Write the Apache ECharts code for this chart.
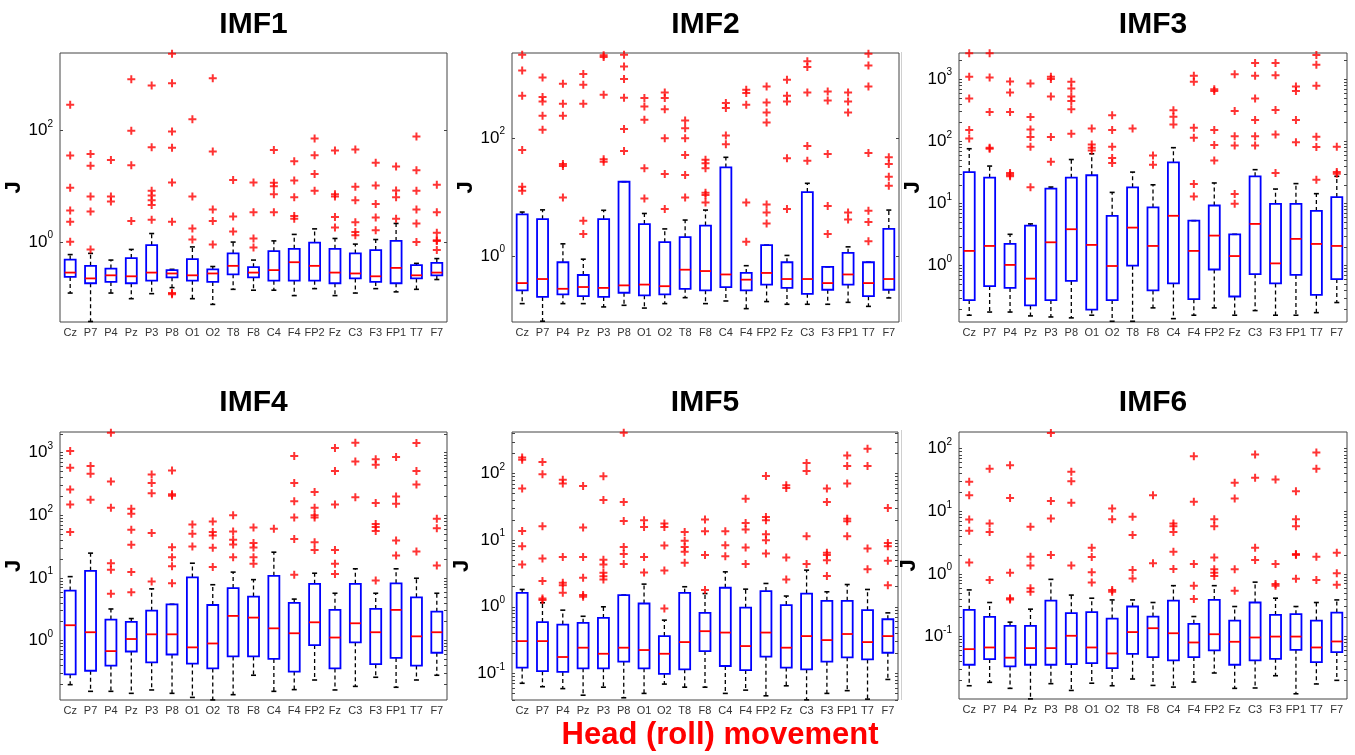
<!DOCTYPE html>
<html><head><meta charset="utf-8">
<script src="https://cdn.jsdelivr.net/npm/echarts@6/dist/echarts.min.js"></script>
<style>html,body{margin:0;padding:0;background:#fff}#c{width:1355px;height:755px}</style>
</head><body><div id="c"></div>
<script>
const channels = ['Cz','P7','P4','Pz','P3','P8','O1','O2','T8','F8','C4','F4','FP2','Fz','C3','F3','FP1','T7','F7'];
const panelTitles = ['IMF1','IMF2','IMF3','IMF4','IMF5','IMF6'];
const yAxisTitle = 'J';
const xAxisTitle = 'Head (roll) movement';
const yTickValues = [[1,100],[1,100],[1,10,100,1000],[1,10,100,1000],[0.1,1,10,100],[0.1,1,10,100]];
const yRangeMin = [0.0362, 0.0766, 0.1245, 0.1127, 0.0398, 0.01007];
const yRangeMax = [2483, 2786, 2630, 2138, 422, 185];

// IMF1
const imf1Lo  = [0.12,0.037,0.12,0.095,0.117,0.15,0.095,0.075,0.14,0.135,0.135,0.108,0.144,0.108,0.12,0.144,0.126,0.14,0.21];
const imf1Q1  = [0.234,0.18,0.19,0.18,0.20,0.23,0.20,0.19,0.26,0.23,0.20,0.20,0.20,0.18,0.22,0.19,0.18,0.22,0.25];
const imf1Med = [0.28,0.22,0.25,0.24,0.28,0.27,0.25,0.27,0.37,0.28,0.31,0.43,0.37,0.28,0.27,0.24,0.34,0.25,0.28];
const imf1Q3  = [0.48,0.37,0.33,0.51,0.87,0.31,0.49,0.32,0.62,0.35,0.68,0.75,0.97,0.75,0.62,0.71,1.04,0.38,0.42];
const imf1Hi  = [0.59,0.62,0.47,0.73,1.41,0.32,0.81,0.36,0.99,0.47,1.04,1.36,1.71,1.15,0.91,1.1,2.14,0.41,0.50];
const imf1Out = [[290,35.5,9.4,3.67,2.29,1.0],[38,23.4,6.5,3.5,0.73],[29.7,6.5,5.3],[841,99,23.7,2.36],[646,50,8.3,6.8,5.6,4.6,2.5],[2400,713,96,49,11.7,2.3,0.12,0.114],[160,6.5,1.74,1.1],[877,42,3.8,2.36,0.9],[12.9,2.86,1.54],[11.7,3.4,1.15,0.79],[45,11.6,10,7.2,3.4],[28,12.7,6.3,2.9,2.6],[72,36,16.6,8.3],[44,7.2,6.5,2.8,1.81],[45.5,9.8,5.6,2.26,1.51,1.32],[26.5,10.3,4.8,2.74,1.62],[22.5,8.4,6.3,2.6],[78,19.3,8.3,3.8,2.14,0.99],[10.6,3.4,1.45,1.07,1.03,0.71]];

// IMF2
const imf2Lo  = [0.157,0.079,0.157,0.157,0.138,0.147,0.132,0.157,0.198,0.157,0.174,0.129,0.17,0.153,0.153,0.153,0.165,0.141,0.196];
const imf2Q1  = [0.264,0.204,0.226,0.21,0.204,0.24,0.217,0.226,0.28,0.264,0.30,0.264,0.33,0.29,0.23,0.27,0.33,0.21,0.27];
const imf2Med = [0.35,0.41,0.28,0.30,0.29,0.32,0.33,0.31,0.59,0.56,0.49,0.40,0.52,0.41,0.41,0.35,0.49,0.35,0.41];
const imf2Q3  = [5.1,4.25,0.79,0.48,4.25,18.3,3.5,1.73,2.1,3.3,32,0.52,1.54,0.79,12.2,0.66,1.14,0.79,2.9];
const imf2Hi  = [5.6,6.1,1.62,0.89,6.0,18.3,5.3,2.9,4.1,6.05,47.5,0.69,1.54,1.03,17.2,0.66,1.44,0.79,6.05];
const imf2Out = [[2600,1413,524,63,15,12.9],[1074,498,420,240,139],[839,384,240,36.6,33.9,9.9],[1224,807,384,4.0,2.37],[2540,2380,545,44,40],[2600,1652,1007,485,144,61],[479,345,205,31,9.5],[597,479,311,100,24.8,6.3],[200,148,100,52,23.8,9.9],[43,37.6,31,11.9,10.9,8.1],[394,324,111,79],[663,582,369,8.1,1.75],[755,404,273,185,7.5,5.5,3.6],[980,524,420,45.7,6.3],[2010,1610,597,74,41.7],[621,437,54,7.1,2.37],[597,420,273,5.5,4.2],[2700,1718,755,56,5.9,3.8,1.8],[47.5,36.6,22.3,15.7]];

// IMF3
const imf3Lo  = [0.16,0.18,0.18,0.156,0.15,0.145,0.16,0.128,0.128,0.21,0.141,0.16,0.21,0.16,0.19,0.16,0.16,0.176,0.256];
const imf3Q1  = [0.28,0.47,0.44,0.23,0.28,0.57,0.197,0.28,1.0,0.40,0.52,0.29,0.87,0.32,0.73,0.52,0.71,0.34,0.61];
const imf3Med = [1.73,2.08,1.03,0.62,2.38,3.86,2.16,0.99,4.1,2.08,6.35,1.73,3.05,1.43,4.7,1.09,2.7,2.24,2.08];
const imf3Q3  = [32,26,2.24,4.4,17.3,26,28.5,6.35,18.2,8.65,46,5.3,9.3,3.2,27.4,9.9,9.9,7.6,12.7];
const imf3Hi  = [76,40,3.2,4.7,18.4,51,63,15.1,32,20,79,5.3,21.4,3.2,35,17.1,20.9,14.4,27.4];
const imf3Out = [[2600,1090,486,152,111],[2600,1063,296,79,76],[916,608,296,31,29,27.4],[850,246,155,117,82,18.2],[1090,1000,524,117,47],[904,706,524,446,327,132],[161,89,79,71],[262,152,82,54,45],[161],[59,42],[315,249,187],[1130,904,165,114,20.6,13],[689,647,152,87,49],[1203,307,121,86,14.2,9.9],[1811,1130,486,220,121,86],[1811,1159,319,129,31],[760,647,220,97],[2440,1702,780,118,81,24.2],[82,32,30]];

// IMF4
const imf4Lo  = [0.198,0.155,0.155,0.144,0.163,0.144,0.124,0.113,0.137,0.28,0.155,0.165,0.235,0.163,0.186,0.26,0.18,0.235,0.28];
const imf4Q1  = [0.29,0.33,0.40,0.67,0.45,0.60,0.43,0.36,0.56,0.56,0.51,0.32,0.85,0.36,0.94,0.42,0.53,0.40,0.64];
const imf4Med = [1.76,1.36,0.68,1.06,1.26,1.26,0.78,0.90,2.48,2.33,1.57,1.31,1.96,1.12,1.89,1.36,3.09,1.17,1.36];
const imf4Q3  = [6.3,13,2.17,1.99,3.0,3.8,10.2,3.7,6.9,5.05,10.8,4.0,8.05,3.1,8.05,3.2,8.2,4.9,2.9];
const imf4Hi  = [10.5,24.9,3.2,2.25,6.7,3.8,17.2,7.8,12.4,9.4,25.8,4.6,11.9,5.7,14,5.7,14,9.9,5.7];
const imf4Out = [[1062,575,259,149,54],[611,461,177],[2085,348,132,17.2,13.5,5.6],[127,106,59,33.8,12.4,5.9],[450,327,226,52,8.8],[521,216,205,31,21.5,15.4,8.2],[71.5,50.7,31.8],[80,54,47.7,30.3,14.9],[100,55,40.6,34.2,21.5],[64,36,30.6,21.5,16.8],[61],[883,327,167,92,42,11.3],[235,132,100,92,37,28],[1186,509,149,28,16.8,11.6],[1443,726,195],[782,642,157,73,65,56,9.1],[851,200,153,39.7,22.8],[1426,509,311,26.4],[88,62,15.8]];

// IMF5
const imf5Lo  = [0.071,0.063,0.059,0.047,0.062,0.043,0.05,0.069,0.062,0.062,0.05,0.056,0.046,0.065,0.04,0.05,0.055,0.041,0.081];
const imf5Q1  = [0.122,0.108,0.105,0.119,0.119,0.15,0.119,0.098,0.115,0.216,0.129,0.112,0.178,0.122,0.115,0.15,0.174,0.162,0.204];
const imf5Med = [0.305,0.305,0.176,0.243,0.197,0.243,0.224,0.197,0.295,0.43,0.41,0.257,0.41,0.243,0.363,0.316,0.39,0.295,0.363];
const imf5Q3  = [1.62,0.59,0.54,0.575,0.68,1.5,1.12,0.363,1.62,0.81,1.93,0.97,1.72,1.06,1.58,1.23,1.23,0.89,0.65];
const imf5Hi  = [1.82,1.15,0.89,0.72,1.0,1.5,2.19,0.63,2.0,1.58,3.35,1.84,2.24,1.45,3.55,1.68,2.16,1.82,0.81];
const imf5Out = [[174,162,60,13.8,8.1,4.3],[150,98,16.2,5.3,2.43,1.33,1.26],[81,71,5.6,2.29,2.11,1.62],[65,15.5,5.6,2.72,1.5,1.41],[91,40,5.1,4.3,3.24,2.88,2.57],[412,37.6,19.5,7.9,6.2,4.4],[20,15.8,5.6,3.27],[17.8,15.8,8.3,3.5,0.94],[13.3,9.8,7.9,6.7,4.6],[20.4,13.6,6.0,1.78],[13.6,8.4,5.75],[42,18.2,14.5,7.8,4.4],[92,22.4,20,12.3,10,6.3],[67,61,5.5,2.57],[145,110,11.5,4.4],[60,37.6,6.5,6.0,5.0,2.9],[188,130,71,21,19.3,11.5],[237,130,7.5,3.67],[30.5,9.1,8.1,4.9,2.11]];

// IMF6
const imf6Lo  = [0.0164,0.0186,0.0149,0.0101,0.0177,0.0138,0.018,0.0164,0.021,0.0166,0.0156,0.0188,0.0262,0.0149,0.0151,0.0237,0.0122,0.0175,0.02];
const imf6Q1  = [0.0355,0.0437,0.0334,0.0355,0.0355,0.0364,0.0377,0.0314,0.0531,0.047,0.0416,0.047,0.06,0.0355,0.0416,0.0442,0.0615,0.039,0.0565];
const imf6Med = [0.063,0.067,0.046,0.0654,0.0654,0.103,0.067,0.0538,0.118,0.136,0.113,0.0805,0.109,0.0826,0.0967,0.1,0.1,0.067,0.0835];
const imf6Q3  = [0.267,0.206,0.148,0.148,0.376,0.236,0.245,0.194,0.302,0.209,0.376,0.16,0.385,0.18,0.35,0.222,0.228,0.18,0.242];
const imf6Hi  = [0.556,0.35,0.17,0.274,0.82,0.46,0.41,0.385,0.385,0.35,0.65,0.209,0.65,0.302,0.74,0.41,0.302,0.35,0.385];
const imf6Out = [[29.6,18.1,7.4,4.9,1.52],[48,6.4,4.7,0.8],[54.5,16.4,1.05,0.41,0.39],[5.7,1.89,1.37,0.59,0.52],[179,14.6,7.7,2.0],[42.7,30.3,13.7,1.37],[2.63,1.87,1.06,0.73],[11.1,7.5,0.556,0.52],[8.2,4.2,1.16,0.85],[18.1,1.48],[6.4,5.8,4.7,2.27,1.2],[76,14.2,1.44,0.65,0.40],[7.5,5.8,1.84,1.19,1.05,0.93],[28.5,16.1,1.19,0.54],[80.6,34.3,2.63,1.67],[32.2,1.44,0.69,0.65],[21,7.5,5.8,2.08,2.0,0.84],[86.8,48,1.89,0.8],[2.19,1.03,0.67]];

const panelStats = [
  [imf1Lo, imf1Q1, imf1Med, imf1Q3, imf1Hi, imf1Out],
  [imf2Lo, imf2Q1, imf2Med, imf2Q3, imf2Hi, imf2Out],
  [imf3Lo, imf3Q1, imf3Med, imf3Q3, imf3Hi, imf3Out],
  [imf4Lo, imf4Q1, imf4Med, imf4Q3, imf4Hi, imf4Out],
  [imf5Lo, imf5Q1, imf5Med, imf5Q3, imf5Hi, imf5Out],
  [imf6Lo, imf6Q1, imf6Med, imf6Q3, imf6Hi, imf6Out]
];

// layout
const gridRects = [[60,53,387,269],[512,53,387,269],[959,53,388,269],[60,432,387,268],[512,432,386,268],[959,432,388,267]];
const showMinor = [false,false,true,true,true,true];
const FONT = 'Arial, "Liberation Sans", Helvetica, sans-serif';

function minorValues(mn, mx) {
  const out = [];
  for (let e = Math.floor(Math.log10(mn)); e <= Math.ceil(Math.log10(mx)); e++) {
    for (let m = 2; m <= 9; m++) { const v = m * Math.pow(10, e); if (v > mn && v < mx) out.push(v); }
  }
  return out;
}

function renderBox(params, api) {
  const x = api.value(0);
  const pLo = api.coord([x, api.value(1)]);
  const pQ1 = api.coord([x, api.value(2)]);
  const pMed = api.coord([x, api.value(3)]);
  const pQ3 = api.coord([x, api.value(4)]);
  const pHi = api.coord([x, api.value(5)]);
  const band = params.coordSys.width / channels.length;
  const w = band * 0.54;
  const cx = pMed[0];
  const capW = 5;
  const dash = {stroke:'#000', lineWidth:1.3, lineDash:[4,3]};
  const cap = {stroke:'#000', lineWidth:1.6};
  return {type:'group', children:[
    {type:'line', shape:{x1:cx,y1:pQ3[1],x2:cx,y2:pHi[1]}, style:dash},
    {type:'line', shape:{x1:cx,y1:pQ1[1],x2:cx,y2:pLo[1]}, style:dash},
    {type:'line', shape:{x1:cx-capW/2,y1:pHi[1],x2:cx+capW/2,y2:pHi[1]}, style:cap},
    {type:'line', shape:{x1:cx-capW/2,y1:pLo[1],x2:cx+capW/2,y2:pLo[1]}, style:cap},
    {type:'rect', shape:{x:cx-w/2,y:pQ3[1],width:w,height:pQ1[1]-pQ3[1]}, style:{fill:'none', stroke:'#0000ff', lineWidth:1.8}},
    {type:'line', shape:{x1:cx-w/2,y1:pMed[1],x2:cx+w/2,y2:pMed[1]}, style:{stroke:'#ff0000', lineWidth:1.8}}
  ]};
}

const grid = [], xAxis = [], yAxis = [], series = [], graphic = [];
panelStats.forEach((st, p) => {
  const r = gridRects[p];
  grid.push({left:r[0], top:r[1], width:r[2], height:r[3], show:true, borderColor:'#444', borderWidth:1, backgroundColor:'#fff'});
  xAxis.push({type:'category', gridIndex:p, data:channels, boundaryGap:true,
    axisLine:{show:false}, axisTick:{show:false},
    axisLabel:{interval:0, margin:5, fontSize:11, color:'#333', fontFamily:FONT}});
  const mn = yRangeMin[p], mx = yRangeMax[p];
  const tickVals = showMinor[p] ? yTickValues[p].concat(minorValues(mn, mx)) : yTickValues[p];
  const base = {type:'log', logBase:10, gridIndex:p, min:mn, max:mx, splitLine:{show:false}, axisLine:{show:false}};
  yAxis.push(Object.assign({}, base, {position:'left',
    name:yAxisTitle, nameLocation:'middle', nameGap:30, nameRotate:90,
    nameTextStyle:{fontSize:22, fontWeight:'bold', color:'#000', fontFamily:FONT},
    axisTick:{show:true, inside:true, length:3, lineStyle:{color:'#444'}, customValues:tickVals},
    axisLabel:{show:true, margin:7, customValues:yTickValues[p], fontFamily:FONT,
      formatter: v => '{b|10}{s|' + Math.round(Math.log10(v)) + '}',
      padding:[0,0,6,0],
      rich:{b:{fontSize:17, lineHeight:17, color:'#000', fontFamily:FONT, padding:[6,0,0,0]},
            s:{fontSize:10, lineHeight:10, color:'#000', fontFamily:FONT, verticalAlign:'top'}}}}));
  yAxis.push(Object.assign({}, base, {position:'right',
    axisTick:{show:true, inside:true, length:3, lineStyle:{color:'#444'}, customValues:tickVals},
    axisLabel:{show:false}}));
  const boxData = channels.map((c, i) => [i, st[0][i], st[1][i], st[2][i], st[3][i], st[4][i]]);
  series.push({type:'custom', xAxisIndex:p, yAxisIndex:2*p, data:boxData, renderItem:renderBox,
    encode:{x:0, y:[1,2,3,4,5]}, z:2, silent:true});
  const outData = [];
  st[5].forEach((arr, i) => arr.forEach(v => outData.push([i, v])));
  series.push({type:'scatter', xAxisIndex:p, yAxisIndex:2*p, data:outData,
    symbol:'path://M3,0H5V3H8V5H5V8H3V5H0V3H3Z', symbolSize:8,
    itemStyle:{color:'#ff0000'}, z:3, silent:true, clip:false});
  graphic.push({type:'text', x:r[0] + r[2]/2, y:(p < 3 ? 25 : 403),
    style:{text:panelTitles[p], font:'bold 30px ' + FONT, fill:'#000', align:'center', verticalAlign:'middle', textAlign:'center', textVerticalAlign:'middle'}});
});
graphic.push({type:'text', x:720, y:735,
  style:{text:xAxisTitle, font:'bold 31px ' + FONT, fill:'#ff0000', align:'center', verticalAlign:'middle', textAlign:'center', textVerticalAlign:'middle'}});
graphic.push({type:'rect', shape:{x:901, y:52, width:1, height:270}, style:{fill:'#d0d0d0'}});
graphic.push({type:'rect', shape:{x:901, y:430, width:1, height:270}, style:{fill:'#d0d0d0'}});

const chart = echarts.init(document.getElementById('c'), null, {renderer:'canvas'});
chart.setOption({animation:false, backgroundColor:'#fff', grid, xAxis, yAxis, series, graphic});
</script></body></html>
